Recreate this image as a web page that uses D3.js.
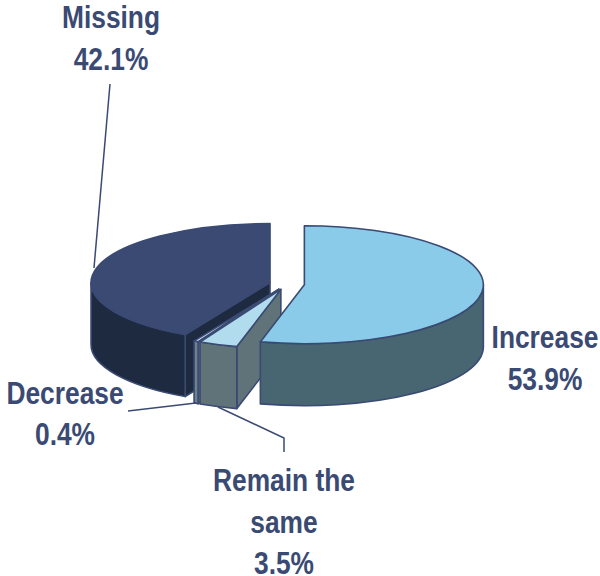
<!DOCTYPE html>
<html>
<head>
<meta charset="utf-8">
<script src="https://cdn.jsdelivr.net/npm/d3@7"></script>
<style>
  html, body { margin: 0; padding: 0; background: #fff; }
  text { font-family: "Liberation Sans", Arial, sans-serif; font-weight: bold; font-size: 31px; fill: #3a4a73; text-anchor: middle; }
</style>
</head>
<body>
<div id="chart"></div>
<script>
// Values, in clockwise order from 12 o'clock
const categories = ["Increase", "Remain the same", "Decrease", "Missing"];
const percents = [53.9, 3.5, 0.4, 42.1];
const topColours = ["#89cbe8", "#b0dcee", "#d4ecf6", "#3a4a73"];
const sideColours = ["#486572", "#5f7379", "#6d838c", "#1d2a40"];

// Pie geometry
const width = 600, height = 576;
const cx = 287, cy = 284;
const rx = 179, ry = 59;
const depth = 62;
const explode = 17.5;
const outline = "#3a4a73";
const narrow = 0.85; // no narrow face installed, squeeze the regular one

const svg = d3.select("#chart").append("svg")
  .attr("width", width)
  .attr("height", height);

const slices = d3.pie().sort(null).value(d => d)(percents).map((s, i) => {
  const mid = (s.startAngle + s.endAngle) / 2;
  return {
    i,
    a0: s.startAngle,
    a1: s.endAngle,
    x: cx + explode * Math.sin(mid),
    y: cy - explode * Math.cos(mid) * ry / rx
  };
});

const px = (s, a) => s.x + rx * Math.sin(a);
const py = (s, a) => s.y - ry * Math.cos(a);

function topPath(s) {
  const large = s.a1 - s.a0 > Math.PI ? 1 : 0;
  return `M${s.x},${s.y}L${px(s, s.a0)},${py(s, s.a0)}` +
    `A${rx},${ry} 0 ${large} 1 ${px(s, s.a1)},${py(s, s.a1)}Z`;
}

// Outer wall, only the part on the front half of the ellipse
function wallPath(s) {
  const a0 = Math.max(s.a0, Math.PI / 2);
  const a1 = Math.min(s.a1, Math.PI * 1.5);
  if (a1 <= a0) return null;
  return `M${px(s, a0)},${py(s, a0)}A${rx},${ry} 0 0 1 ${px(s, a1)},${py(s, a1)}` +
    `L${px(s, a1)},${py(s, a1) + depth}A${rx},${ry} 0 0 0 ${px(s, a0)},${py(s, a0) + depth}Z`;
}

function cutPath(s, a) {
  return `M${s.x},${s.y}L${px(s, a)},${py(s, a)}` +
    `L${px(s, a)},${py(s, a) + depth}L${s.x},${s.y + depth}Z`;
}

// Painter's order: back slices first
const drawOrder = [3, 2, 1, 0];
const g = svg.append("g")
  .attr("stroke", outline)
  .attr("stroke-width", 1.6)
  .attr("stroke-linejoin", "round");

drawOrder.forEach(i => {
  const s = slices[i];
  const slice = g.append("g").attr("class", "slice");
  // Start face shows when it turns toward the viewer, end face likewise
  if (Math.sin(s.a0) < 0) slice.append("path").attr("d", cutPath(s, s.a0)).attr("fill", sideColours[i]);
  if (Math.sin(s.a1 % (2 * Math.PI)) > 0) slice.append("path").attr("d", cutPath(s, s.a1)).attr("fill", sideColours[i]);
  const wall = wallPath(s);
  if (wall) slice.append("path").attr("d", wall).attr("fill", sideColours[i]);
  slice.append("path").attr("d", topPath(s)).attr("fill", topColours[i]);
});

// Leader lines
const leaders = [
  [[110, 84], [94, 268]],
  [[128, 411], [196, 403]],
  [[218, 407], [284, 438], [284, 452]]
];
svg.append("g").selectAll("path").data(leaders).join("path")
  .attr("d", d3.line())
  .attr("fill", "none")
  .attr("stroke", outline)
  .attr("stroke-width", 1.5);

// Labels
const fmt = d3.format(".1f");
const labels = [
  { i: 3, x: 111, lines: ["Missing"], ys: [28, 70] },
  { i: 0, x: 545, lines: ["Increase"], ys: [348, 390] },
  { i: 2, x: 65, lines: ["Decrease"], ys: [404, 445] },
  { i: 1, x: 284, lines: ["Remain the", "same"], ys: [491, 533, 574] }
];
labels.forEach(l => {
  const rows = l.lines.concat(fmt(percents[l.i]) + "%");
  rows.forEach((t, k) => {
    svg.append("text")
      .attr("transform", `translate(${l.x},${l.ys[k]}) scale(${narrow},1)`)
      .text(t);
  });
});
</script>
</body>
</html>
